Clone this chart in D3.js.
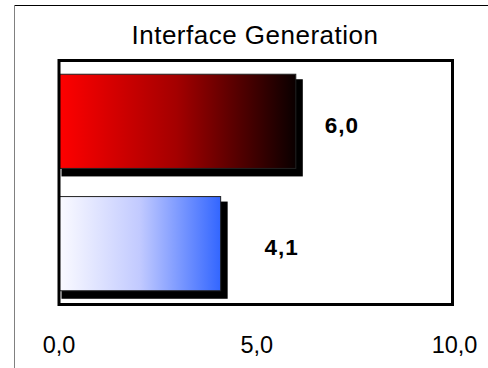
<!DOCTYPE html>
<html>
<head>
<meta charset="utf-8">
<script src="https://cdn.jsdelivr.net/npm/d3@7"></script>
<style>
  html, body { margin: 0; padding: 0; background: #fff; }
  svg { display: block; }
</style>
</head>
<body>
<svg id="chart" width="488" height="368"></svg>
<script>
// Chart data
const title = "Interface Generation";
const categories = ["A", "B"];
const values = [6.0, 4.1];
const valueLabels = ["6,0", "4,1"];
const tickValues = [0, 5, 10];
const tickLabels = ["0,0", "5,0", "10,0"];

const svg = d3.select("#chart");
const font = "'Liberation Sans', Arial, sans-serif";

// Scales
const x = d3.scaleLinear().domain([0, 10]).range([58.5, 454]);
const y = d3.scaleBand().domain(categories).range([62, 303]).paddingInner(0.23).paddingOuter(0.1);

// Gradients for the two bars
const defs = svg.append("defs");
const gradients = [
  { id: "gradRed", stops: [["0%", "#ff0000"], ["50%", "#a30000"], ["100%", "#0a0000"]] },
  { id: "gradBlue", stops: [["0%", "#fbfbff"], ["50%", "#c2caff"], ["100%", "#3366ff"]] }
];
gradients.forEach(g => {
  const lg = defs.append("linearGradient").attr("id", g.id)
    .attr("x1", "0%").attr("x2", "100%").attr("y1", "0%").attr("y2", "0%");
  g.stops.forEach(s => lg.append("stop").attr("offset", s[0]).attr("stop-color", s[1]));
});

// Outer chart-area border (top and left edges visible)
svg.append("line").attr("x1", 14.5).attr("x2", 488).attr("y1", 5.5).attr("y2", 5.5)
  .attr("stroke", "#000").attr("stroke-width", 1);
svg.append("line").attr("x1", 14.5).attr("x2", 14.5).attr("y1", 5.5).attr("y2", 368)
  .attr("stroke", "#808080").attr("stroke-width", 1);

// Title
svg.append("text")
  .attr("x", 255).attr("y", 43.5)
  .attr("text-anchor", "middle")
  .attr("font-family", font).attr("font-size", 26)
  .attr("letter-spacing", 0.5)
  .attr("fill", "#000")
  .text(title);

// Bar shadows
svg.selectAll("rect.shadow").data(values).join("rect")
  .attr("class", "shadow")
  .attr("x", x(0) + 3)
  .attr("y", (d, i) => y(categories[i]) + 5)
  .attr("width", d => x(d) + 7 - (x(0) + 3))
  .attr("height", y.bandwidth() + 3)
  .attr("fill", "#000");

// Bars
svg.selectAll("rect.bar").data(values).join("rect")
  .attr("class", "bar")
  .attr("x", x(0))
  .attr("y", (d, i) => y(categories[i]))
  .attr("width", d => x(d) - x(0))
  .attr("height", y.bandwidth())
  .attr("fill", (d, i) => `url(#${gradients[i].id})`)
  .attr("stroke", "#222").attr("stroke-width", 1);

// Plot frame
svg.append("rect")
  .attr("x", 59).attr("y", 60.5)
  .attr("width", 393.5).attr("height", 244)
  .attr("fill", "none").attr("stroke", "#000").attr("stroke-width", 3);

// Value labels
const labelShift = [46, 61];
svg.selectAll("text.value").data(values).join("text")
  .attr("class", "value")
  .attr("x", (d, i) => x(d) + labelShift[i])
  .attr("y", (d, i) => y(categories[i]) + y.bandwidth() / 2 + 11.5)
  .attr("text-anchor", "middle")
  .attr("font-family", font).attr("font-size", 22.5).attr("font-weight", "bold")
  .attr("letter-spacing", 1)
  .attr("fill", "#000")
  .text((d, i) => valueLabels[i]);

// X axis tick labels
const axis = d3.axisBottom(x).tickValues(tickValues)
  .tickFormat((d, i) => tickLabels[i]).tickSize(0).tickPadding(0);
const gAxis = svg.append("g").attr("transform", "translate(0,335)").call(axis);
gAxis.select(".domain").remove();
gAxis.selectAll("text")
  .attr("font-family", font).attr("font-size", 23.5)
  .attr("fill", "#000")
  .attr("dy", null).attr("y", 17.7);
</script>
</body>
</html>
